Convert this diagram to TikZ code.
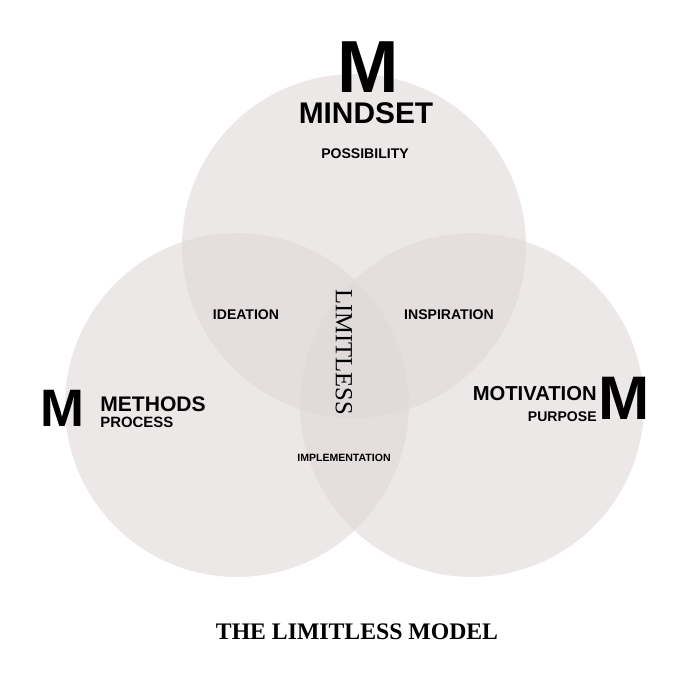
\documentclass[tikz,border=0pt]{standalone}
\usepackage{fontspec}
\setmainfont{Liberation Serif}
\setsansfont{Liberation Sans}
\definecolor{ringgrey}{RGB}{222,214,214}
\tikzset{
	ring/.style={circle, minimum size=6.88cm, fill=ringgrey, fill opacity=0.55, draw=none}, % circulos
	lbl/.style={font=\sffamily\bfseries\fontsize{#1}{#1}\selectfont, inner sep=0pt}
}
\begin{document}
\begin{tikzpicture}[x=0.02cm, y=-0.02cm]
	\useasboundingbox (0,0) rectangle (691,691);
	\node[ring] (mind) at (354,246) {};
	\node[ring] (meth) at (237,405) {};
	\node[ring] (moti) at (472,405) {};
	% textos
	\node[lbl=42] (mm) at (368,67) {M};
	\node[lbl=17] (mindset) at (366,113) {MINDSET};
	\node[lbl=8] (poss) at (365,154) {POSSIBILITY};
	\node[lbl=8] (idea) at (246,315) {IDEATION};
	\node[lbl=8] (insp) at (449,315) {INSPIRATION};
	\node[lbl=6] (impl) at (344,458) {IMPLEMENTATION};
	\node[font=\fontsize{14}{14}\selectfont, inner sep=0pt, rotate=-90] (lim) at (344,352) {LIMITLESS};
	\node[lbl=30] (ml) at (62,408) {M};
	\node[lbl=12, anchor=west] (methods) at (100,404) {METHODS};
	\node[lbl=8.5, anchor=west] (process) at (100,422) {PROCESS};
	\node[lbl=35] (mr) at (624,398) {M};
	\node[lbl=11.5, anchor=east] (motiv) at (597,394) {MOTIVATION};
	\node[lbl=8, anchor=east] (purp) at (597,417) {PURPOSE};
	\node[font=\rmfamily\bfseries\fontsize{13.5}{13.5}\selectfont, inner sep=0pt] (title) at (357,632) {THE LIMITLESS MODEL};
\end{tikzpicture}
\end{document}
